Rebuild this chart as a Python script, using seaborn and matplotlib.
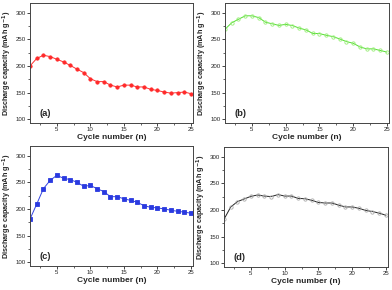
import numpy as np
import matplotlib
matplotlib.use("Agg")
import matplotlib.pyplot as plt
from matplotlib.ticker import MultipleLocator
import seaborn as sns

cycles = list(range(1, 26))
cap_a = [200, 214, 220, 217.5, 212.5, 207.5, 201, 194, 187.5, 176, 170.6, 170.6, 164,
         160.6, 164, 164, 160.6, 160.6, 156, 154, 151, 149, 150, 151, 148]
cap_b = [268.75, 281, 287.5, 294, 294, 290.6, 282, 279, 276, 278, 275.6, 271, 267.5,
         261, 260.6, 257.5, 255, 250.6, 245.6, 242.5, 235.6, 232, 232, 229, 226]
cap_c = [181, 209, 238, 253.5, 263, 257.5, 255, 250, 242.5, 244, 238, 232.5, 223,
         223, 219, 216, 212.5, 206, 203, 202, 200, 197.5, 195.6, 194, 192]
cap_d = [182.5, 205.6, 215.6, 220.6, 225.6, 228, 226, 225, 228.75, 226, 226, 221.6, 221,
         218, 214, 213, 213, 209, 205.6, 205.6, 203, 199, 197, 194, 190]
labels = ["(a)", "(b)", "(c)", "(d)"]

sns.set_style("ticks")
plt.rcParams['font.family'] = ['Liberation Sans', 'DejaVu Sans']
plt.rcParams['mathtext.default'] = 'bf'

W, H = 392, 290
fig = plt.figure(figsize=(W / 100, H / 100), dpi=100)

# pixel boxes: left, top, right, bottom
boxes = [(30, 3, 193, 123), (225, 3, 389, 123), (30, 146, 193, 266), (224, 147, 388, 267)]
series = [cap_a, cap_b, cap_c, cap_d]
styles = [
    dict(color="#ff3030", marker="o", mfc="#ff2a2a", mec="#ff2a2a"),
    dict(color="#55dd33", marker="o", mfc="none", mec="#99ee77"),
    dict(color="#3344e0", marker="s", mfc="#2a3ae0", mec="#2a3ae0"),
    dict(color="#222222", marker="o", mfc="none", mec="#aaaaaa"),
]

for (l, t, r, b), vals, st, lab in zip(boxes, series, styles, labels):
    ax = fig.add_axes([l / W, 1 - b / H, (r - l) / W, (b - t) / H])
    sns.lineplot(x=cycles, y=vals, ax=ax, color=st["color"], marker=st["marker"],
                 markersize=2.4, markerfacecolor=st["mfc"],
                 markeredgecolor=st["mec"], markeredgewidth=0.6, linewidth=0.7)
    ax.set_xlim(1, 25.3)
    ax.set_ylim(93, 318)
    ax.xaxis.set_major_locator(MultipleLocator(5))
    ax.xaxis.set_minor_locator(MultipleLocator(2.5))
    ax.yaxis.set_major_locator(MultipleLocator(50))
    ax.yaxis.set_minor_locator(MultipleLocator(25))
    ax.tick_params(which="major", length=2, width=0.6, labelsize=4.4, pad=1, direction="out")
    ax.tick_params(which="minor", length=1.2, width=0.5, direction="out")
    for s in ax.spines.values():
        s.set_linewidth(0.7)
        s.set_color("#444444")
    ax.set_xlabel("Cycle number (n)", fontsize=6, fontweight="bold", labelpad=1)
    ax.set_ylabel("Discharge capacity (mAh g$^{-1}$)", fontsize=5.2, fontweight="bold", labelpad=1)
    ax.text(0.06, 0.06, lab, transform=ax.transAxes, fontsize=6.8, fontweight="bold")

fig.savefig("out.png", dpi=100)
